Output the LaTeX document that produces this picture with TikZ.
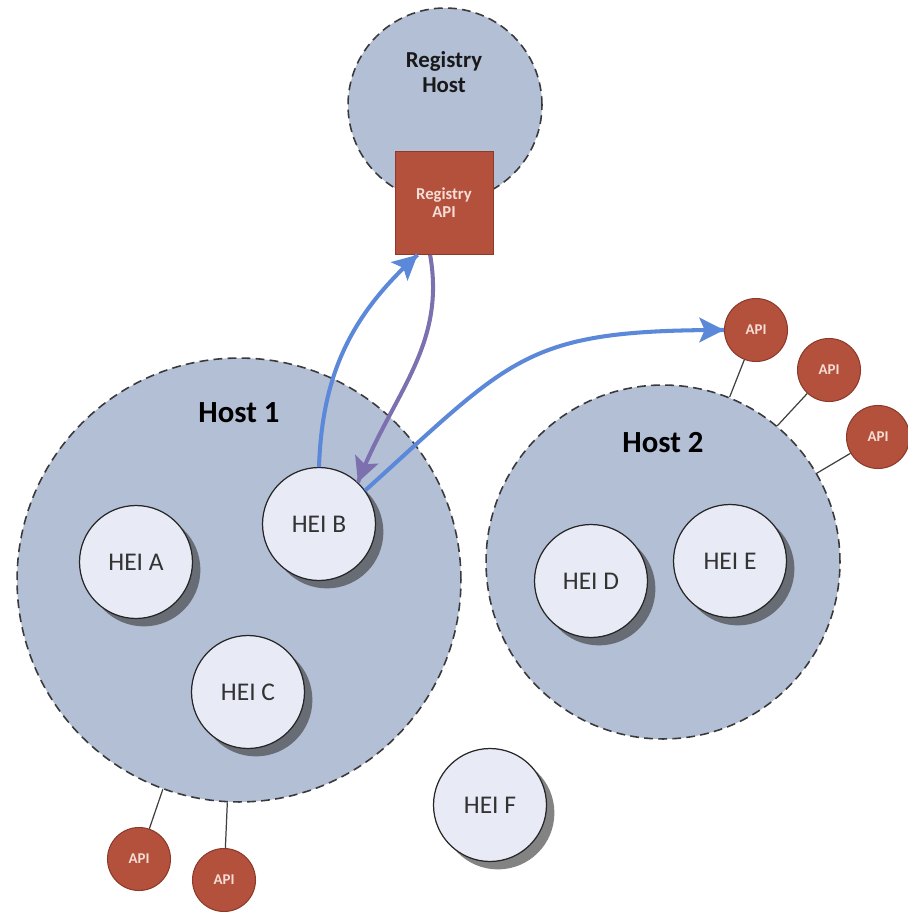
\documentclass[tikz,border=0pt]{standalone}
\usepackage{fontspec}
\setmainfont{Carlito}
\usepackage{tikz}
\usetikzlibrary{positioning, shadows, arrows.meta, decorations.markings}
\usepackage{xcolor}

\definecolor{hostfill}{HTML}{B3BFD5}
\definecolor{hostline}{HTML}{3A3A3A}
\definecolor{heifill}{HTML}{E8EBF5}
\definecolor{heitext}{HTML}{333333}
\definecolor{apifill}{HTML}{B4513D}
\definecolor{apiline}{HTML}{8E3A2A}
\definecolor{apitext}{HTML}{F6DDD5}
\definecolor{flowblue}{HTML}{5B88D8}
\definecolor{flowpurple}{HTML}{7D70AE}

\begin{document}
\begin{tikzpicture}[x=0.02cm, y=-0.02cm,
    host/.style={circle, draw=hostline, fill=hostfill, line width=0.9pt, dash pattern=on 5pt off 3pt, inner sep=0},
    hei/.style={circle, draw=black!85, fill=heifill, line width=0.7pt, minimum size=2.26cm, inner sep=0, text=heitext, font=\fontsize{14.5}{17}\selectfont, drop shadow={shadow xshift=4.5pt, shadow yshift=-4.5pt, fill=black!75, opacity=0.65}},
    api/.style={circle, draw=apiline, fill=apifill, line width=0.6pt, minimum size=1.26cm, inner sep=0, text=apitext, font=\bfseries\fontsize{8.5}{10}\selectfont},
    api_link/.style={draw=black!75, line width=0.7pt},
    host_label/.style={font=\bfseries\fontsize{17.5}{20}\selectfont, inner sep=0},
    flow/.style={color=#1, line width=2.3pt, decoration={markings, mark=at position 1 with %
    {\arrow{Stealth[length=14pt, width=14pt, inset=3pt]}}}, postaction={decorate}}]

    \useasboundingbox (0,0) rectangle (907,912);

    % Registry host
    \node[host, minimum size=3.88cm] (reghost) at (445,105) {};
    \node[font=\bfseries\fontsize{13}{14.2}\selectfont, align=center, text=black!90] (reghost_label) at (444,72) {Registry\\Host};
    \node[rectangle, draw=apiline, fill=apifill, minimum width=1.96cm, minimum height=2.06cm, text=apitext, font=\bfseries\fontsize{9.5}{10.3}\selectfont, align=center] (regapi) at (444,203) {Registry\\API};

    % Host 1
    \node[host, minimum size=8.88cm] (host1) at (239,580) {};
    \node[host_label, below=0.9cm of host1.north] (host1_label) {Host 1};
    \node[hei] (heiA) at (136,562) {HEI A};
    \node[hei] (heiB) at (319,524) {HEI B};
    \node[hei] (heiC) at (248,692) {HEI C};

    % Host 2
    \node[host, minimum size=7.08cm] (host2) at (663,562) {};
    \node[host_label, below=0.96cm of host2.north] (host2_label) {Host 2};
    \node[hei] (heiD) at (591,581) {HEI D};
    \node[hei] (heiE) at (730,561) {HEI E};

    % Outside any host
    \node[hei] (heiF) at (490,805) {HEI F};

    % APIs
    \node[api] (api0) at (756,330) {API};
    \node[api] (api1) at (829,370) {API};
    \node[api] (api2) at (878,437) {API};
    \node[api] (api3) at (139,859) {API};
    \node[api] (api4) at (224,880) {API};
    \draw[api_link] (api0) -- (host2.68);
    \draw[api_link] (api1) -- (host2.50);
    \draw[api_link] (api2) -- (host2.30);
    \draw[api_link] (api3) -- (host1.250);
    \draw[api_link] (api4) -- (host1.267);

    % Lookup and call
    \draw[flow=flowblue] (heiB.north) to[out=88, in=222] (regapi.243);
    \draw[flow=flowpurple] (regapi.255) to[out=280, in=69] (heiB.47);
    \draw[flow=flowblue] (heiB.36) to[out=42, in=180, looseness=1.3] (api0.west);

\end{tikzpicture}
\end{document}
